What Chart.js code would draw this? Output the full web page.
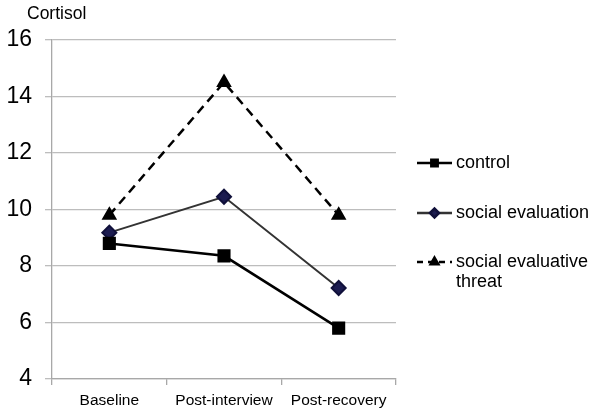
<!DOCTYPE html>
<html>
<head>
<meta charset="utf-8">
<script src="https://cdn.jsdelivr.net/npm/chart.js@4"></script>
<style>
  html, body { margin: 0; padding: 0; background: #fff; }
  #wrap { width: 600px; height: 414px; }
</style>
</head>
<body>
<div id="wrap"><canvas id="grafico" width="600" height="414"></canvas></div>
<script>
const momentos = ["Baseline", "Post-interview", "Post-recovery"];
const control = [8.8, 8.36, 5.8];
const socialEval = [9.18, 10.45, 7.22];
const socialThreat = [9.8, 14.5, 9.8];
const ticksY = [4, 6, 8, 10, 12, 14, 16];
const nombresSeries = ["control", "social evaluation", ["social evaluative", "threat"]];

const fuente = "Arial, 'Liberation Sans', sans-serif";

// leyenda a la derecha con linea + marcador, como en Excel
const leyenda = {
  id: "leyenda",
  afterDraw(chart) {
    const ctx = chart.ctx;
    const filas = [163, 213, 262];
    ctx.save();
    chart.data.datasets.forEach((ds, i) => {
      const y = filas[i];
      ctx.strokeStyle = ds.borderColor;
      ctx.lineWidth = 2.5;
      ctx.setLineDash(ds.borderDash ? [6, 5] : []);
      ctx.beginPath();
      ctx.moveTo(417, y);
      ctx.lineTo(452, y);
      ctx.stroke();
      ctx.setLineDash([]);
      ctx.fillStyle = ds.pointBackgroundColor;
      ctx.strokeStyle = ds.pointBorderColor;
      Chart.helpers.drawPoint(ctx, { pointStyle: ds.pointStyle, radius: 4.5, borderWidth: 1, rotation: 0 }, 434.5, y);
      ctx.fillStyle = "#000";
      ctx.font = "18px " + fuente;
      ctx.textBaseline = "middle";
      const lineas = [].concat(nombresSeries[i]);
      lineas.forEach((t, k) => ctx.fillText(t, 456, y + k * 20));
    });
    // titulo del eje
    ctx.font = "17.5px " + fuente;
    ctx.textBaseline = "middle";
    ctx.fillText("Cortisol", 27, 14);
    ctx.restore();
  },
};

const ctx = document.getElementById("grafico").getContext("2d");
new Chart(ctx, {
  type: "line",
  data: {
    labels: momentos,
    datasets: [
      {
        label: "control",
        data: control,
        borderColor: "#000",
        borderWidth: 2.5,
        pointStyle: "rect",
        pointRadius: 7.5,
        pointBackgroundColor: "#000",
        pointBorderColor: "#000",
      },
      {
        label: "social evaluation",
        data: socialEval,
        borderColor: "#333",
        borderWidth: 2,
        pointStyle: "rectRot",
        pointRadius: 7,
        pointBackgroundColor: "#1c1c50",
        pointBorderColor: "#10103a",
      },
      {
        label: "social evaluative threat",
        data: socialThreat,
        borderColor: "#000",
        borderWidth: 2.5,
        borderDash: [9, 6],
        pointStyle: "triangle",
        pointRadius: 6.5,
        pointBackgroundColor: "#000",
        pointBorderColor: "#000",
      },
    ],
  },
  options: {
    responsive: false,
    animation: false,
    layout: { padding: { left: 0, right: 204, top: 40, bottom: 0 } },
    plugins: { legend: { display: false }, tooltip: { enabled: false } },
    scales: {
      y: {
        min: 4,
        max: 16,
        afterBuildTicks: (s) => { s.ticks = ticksY.map((v) => ({ value: v })); },
        afterFit: (s) => { s.width = 52; },
        ticks: { color: "#000", padding: 13, font: { size: 23, family: fuente } },
        grid: { color: "#bdbdbd", tickLength: 7, lineWidth: 1.3 },
        border: { color: "#a8a8a8", width: 1.3 },
      },
      x: {
        offset: true,
        afterFit: (s) => { s.height = 35; },
        ticks: { color: "#000", padding: 6, font: { size: 15.5, family: fuente } },
        grid: { offset: true, drawOnChartArea: false, tickLength: 6, color: "#a8a8a8", lineWidth: 1.3 },
        border: { color: "#a8a8a8", width: 1.3 },
      },
    },
  },
  plugins: [leyenda],
});
</script>
</body>
</html>
